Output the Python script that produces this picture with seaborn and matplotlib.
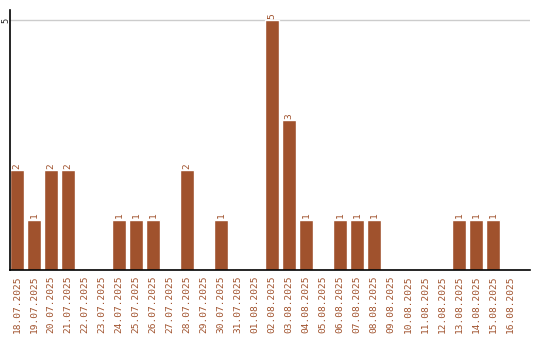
import matplotlib
matplotlib.use("Agg")
import matplotlib.pyplot as plt
import seaborn as sns
import pandas as pd

dates = ["18.07.2025", "19.07.2025", "20.07.2025", "21.07.2025", "22.07.2025",
         "23.07.2025", "24.07.2025", "25.07.2025", "26.07.2025", "27.07.2025",
         "28.07.2025", "29.07.2025", "30.07.2025", "31.07.2025", "01.08.2025",
         "02.08.2025", "03.08.2025", "04.08.2025", "05.08.2025", "06.08.2025",
         "07.08.2025", "08.08.2025", "09.08.2025", "10.08.2025", "11.08.2025",
         "12.08.2025", "13.08.2025", "14.08.2025", "15.08.2025", "16.08.2025"]
counts = [2, 1, 2, 2, 0, 0, 1, 1, 1, 0, 2, 0, 1, 0, 0,
          5, 3, 1, 0, 1, 1, 1, 0, 0, 0, 0, 1, 1, 1, 0]
yticks = [5]

sns.set_style("white")
plt.rcParams["font.family"] = ["DejaVu Sans Mono", "DejaVu Sans"]

color = "#A0522D"
df = pd.DataFrame({"date": dates, "count": counts})

fig = plt.figure(figsize=(5.4, 3.4), dpi=100)
ax = fig.add_axes([10/540, 70/340, 520/540, 260/340])
sns.barplot(data=df, x="date", y="count", color=color, width=14/17,
            saturation=1, ax=ax, zorder=2)
ax.set_xlim(-0.41, 30.18)
ax.set_ylim(0, 5.2)
ax.set_yticks(yticks)
ax.set_yticklabels([str(t) for t in yticks], rotation=90, va="center",
                   fontsize=6.2, color="#222222")
ax.yaxis.grid(True, color="#cccccc", linewidth=1, zorder=0)
ax.tick_params(axis="y", length=0, pad=-0.5)
ax.tick_params(axis="x", length=0, pad=4)
ax.set_xticks(range(len(dates)))
ax.set_xticklabels(dates, rotation=90, fontsize=6.8, color=color)
ax.set_xlabel("")
ax.set_ylabel("")
for s in ["top", "right"]:
    ax.spines[s].set_visible(False)
for s in ["left", "bottom"]:
    ax.spines[s].set_color("black")
    ax.spines[s].set_linewidth(1.2)
    ax.spines[s].set_zorder(3)

for i, v in enumerate(counts):
    if v > 0:
        ax.text(i, v + 0.03, str(v), rotation=90, ha="center", va="bottom",
                fontsize=6.8, color=color)

fig.savefig("out.png", dpi=100)
